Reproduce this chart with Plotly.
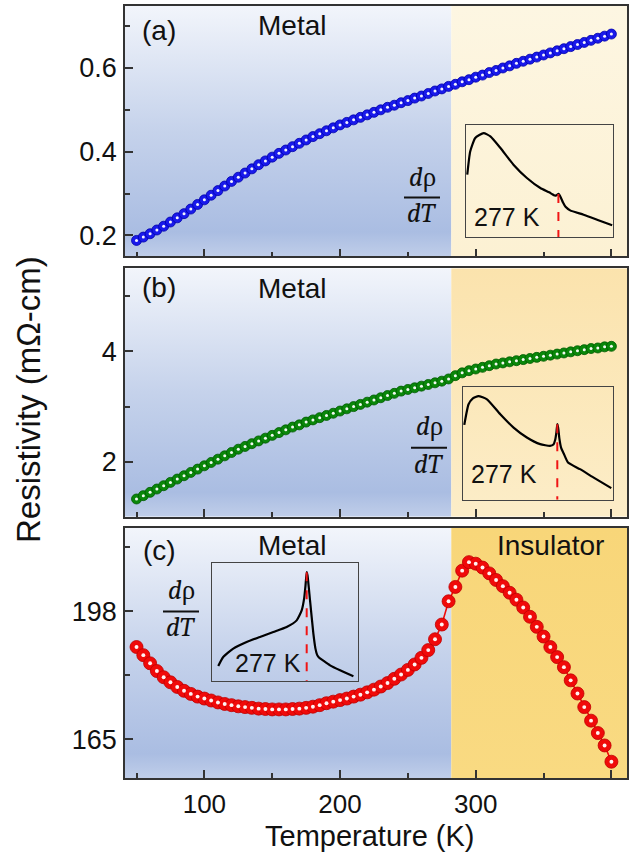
import plotly.graph_objects as go

# ---------------- data ----------------
T = list(range(50, 401, 5))  # temperature (K)

rho_a = [0.188, 0.196, 0.204, 0.213, 0.222, 0.232, 0.242, 0.252, 0.263, 0.274,
         0.285, 0.296, 0.307, 0.318, 0.329, 0.339, 0.349, 0.359, 0.369, 0.378,
         0.387, 0.396, 0.404, 0.412, 0.420, 0.428, 0.436, 0.443, 0.450, 0.457,
         0.464, 0.470, 0.476, 0.482, 0.488, 0.494, 0.500, 0.506, 0.511, 0.517,
         0.522, 0.528, 0.533, 0.539, 0.545, 0.550, 0.556, 0.561, 0.567, 0.572,
         0.578, 0.583, 0.589, 0.594, 0.600, 0.605, 0.611, 0.616, 0.621, 0.626,
         0.631, 0.636, 0.641, 0.646, 0.651, 0.656, 0.661, 0.666, 0.671, 0.676,
         0.681]

rho_b = [1.33, 1.39, 1.45, 1.51, 1.57, 1.63, 1.69, 1.75, 1.81, 1.87,
         1.93, 1.99, 2.05, 2.11, 2.17, 2.23, 2.28, 2.33, 2.38, 2.43,
         2.48, 2.53, 2.58, 2.63, 2.67, 2.72, 2.76, 2.80, 2.84, 2.88,
         2.92, 2.96, 3.00, 3.04, 3.08, 3.12, 3.16, 3.20, 3.24, 3.28,
         3.31, 3.34, 3.37, 3.40, 3.43, 3.46, 3.50, 3.56, 3.61, 3.65,
         3.68, 3.71, 3.74, 3.77, 3.79, 3.81, 3.83, 3.85, 3.87, 3.89,
         3.91, 3.93, 3.95, 3.97, 3.99, 4.01, 4.03, 4.05, 4.06, 4.08,
         4.09]

rho_c = [188.8, 186.7, 184.6, 182.6, 181.0, 179.7, 178.5, 177.5, 176.7, 176.0,
         175.5, 175.0, 174.5, 174.1, 173.8, 173.5, 173.3, 173.1, 172.9, 172.8,
         172.7, 172.7, 172.7, 172.8, 172.9, 173.1, 173.4, 173.8, 174.3, 174.7,
         175.1, 175.5, 176.0, 176.5, 177.1, 177.8, 178.6, 179.5, 180.6, 181.7,
         182.9, 184.3, 186.0, 188.0, 190.8, 194.6, 200.6, 204.3, 208.5, 210.7,
         210.3, 209.3, 207.8, 206.1, 204.5, 202.8, 201.0, 199.0, 196.6, 194.0,
         191.5, 188.8, 186.2, 183.6, 180.2, 176.8, 173.3, 169.8, 166.6, 163.4,
         159.2]

# derivative insets (arbitrary units)
dT_a = [60, 67, 79, 99, 115, 139, 170, 202, 234, 255, 262, 268, 272, 275, 277, 279,
        283, 288, 294, 305, 337, 369, 405]
drho_a = [0.556, 0.763, 0.882, 0.926, 0.896, 0.793, 0.645, 0.527, 0.438, 0.400, 0.384,
          0.372, 0.373, 0.381, 0.386, 0.380, 0.352, 0.310, 0.272, 0.240, 0.201, 0.157, 0.107]

dT_b = [60, 70, 80, 93, 113, 144, 175, 206, 237, 260, 268, 272, 275, 277, 279, 282,
        286, 292, 302, 330, 361, 403]
drho_b = [0.664, 0.847, 0.900, 0.920, 0.891, 0.758, 0.640, 0.552, 0.493, 0.478, 0.490,
          0.530, 0.600, 0.670, 0.640, 0.540, 0.460, 0.410, 0.330, 0.271, 0.198, 0.103]

dT_c = [65, 77, 101, 133, 165, 197, 229, 253, 265, 271, 274, 277, 279, 285, 293, 298,
        302, 307, 315, 333, 357, 389]
drho_c = [0.129, 0.204, 0.275, 0.331, 0.373, 0.415, 0.457, 0.513, 0.597, 0.700, 0.800,
          0.919, 0.891, 0.681, 0.401, 0.275, 0.222, 0.198, 0.178, 0.134, 0.092, 0.042]

T_MI = 282          # metal-insulator boundary shading (K)
T_PEAK = 277        # marked transition in dρ/dT

x_ticks = [100, 200, 300, 400]
ya_ticks = [0.2, 0.4, 0.6]
yb_ticks = [2, 4]
yc_ticks = [165, 198]

# ---------------- layout geometry ----------------
W, H = 633, 861
ML, MR, MT, MB = 125, 6, 4, 83
X_RANGE = [41.5, 411.5]
YA_RANGE = [0.15, 0.748]
YB_RANGE = [1.01, 5.5]
YC_RANGE = [155, 219.6]


def px_x(p):
    return (p - ML) / (W - ML - MR)


def px_y(p):
    return (H - MB - p) / (H - MT - MB)


FONT = "Arial, Liberation Sans, sans-serif"
SERIF = "Cambria, Liberation Serif, DejaVu Serif, serif"
FRAME = "#333333"
TXT = "#111111"

fig = go.Figure()

BLUE_SCALE = [[0.0, "rgb(192,206,233)"], [0.1, "rgb(170,189,226)"],
              [0.5, "rgb(197,210,235)"], [1.0, "rgb(242,245,251)"]]
YELLOW_A = [[0.0, "rgb(252,241,211)"], [1.0, "rgb(253,246,226)"]]
YELLOW_B = [[0.0, "rgb(252,237,200)"], [1.0, "rgb(251,227,173)"]]
YELLOW_C = [[0.0, "rgb(249,218,130)"], [1.0, "rgb(248,214,121)"]]


def region(xa, ya, x0, x1, yr, scale):
    y0, y1 = yr
    fig.add_trace(go.Scatter(
        x=[x0, x1, x1, x0, x0], y=[y0, y0, y1, y1, y0], xaxis=xa, yaxis=ya,
        mode="none", fill="toself",
        fillgradient=dict(type="vertical", colorscale=scale, start=y0, stop=y1),
        hoverinfo="skip", showlegend=False))


region("x", "y", X_RANGE[0], T_MI, YA_RANGE, BLUE_SCALE)
region("x", "y", T_MI, X_RANGE[1], YA_RANGE, YELLOW_A)
region("x2", "y2", X_RANGE[0], T_MI, YB_RANGE, BLUE_SCALE)
region("x2", "y2", T_MI, X_RANGE[1], YB_RANGE, YELLOW_B)
region("x3", "y3", X_RANGE[0], T_MI, YC_RANGE, BLUE_SCALE)
region("x3", "y3", T_MI, X_RANGE[1], YC_RANGE, YELLOW_C)


def spheres(xa, ya, y, color, edge, size, line=False):
    if line:
        fig.add_trace(go.Scatter(x=T, y=y, xaxis=xa, yaxis=ya, mode="lines",
                                 line=dict(color=color, width=1.6),
                                 hoverinfo="skip", showlegend=False))
    fig.add_trace(go.Scatter(x=T, y=y, xaxis=xa, yaxis=ya, mode="markers",
                             marker=dict(size=size, color=color,
                                         line=dict(color=edge, width=0.8)),
                             showlegend=False))
    fig.add_trace(go.Scatter(x=T, y=y, xaxis=xa, yaxis=ya, mode="markers",
                             marker=dict(size=size * 0.3, color="rgba(255,255,255,0.95)"),
                             hoverinfo="skip", showlegend=False))


spheres("x", "y", rho_a, "rgb(25,25,235)", "rgb(0,0,170)", 10)
spheres("x2", "y2", rho_b, "rgb(10,135,10)", "rgb(0,90,0)", 10)
spheres("x3", "y3", rho_c, "rgb(240,10,10)", "rgb(190,0,0)", 13, line=True)


def inset(xa, ya, tx, dy):
    fig.add_trace(go.Scatter(x=tx, y=dy, xaxis=xa, yaxis=ya, mode="lines",
                             line=dict(color="black", width=2.2, shape="spline", smoothing=0.5),
                             hoverinfo="skip", showlegend=False))
    peak = dy[tx.index(T_PEAK)]
    fig.add_trace(go.Scatter(x=[T_PEAK, T_PEAK], y=[peak, 0], xaxis=xa, yaxis=ya,
                             mode="lines", line=dict(color="rgb(240,20,20)", width=2, dash="dash"),
                             hoverinfo="skip", showlegend=False))


inset("x4", "y4", dT_a, drho_a)
inset("x5", "y5", dT_b, drho_b)
inset("x6", "y6", dT_c, drho_c)

# ---------------- axes ----------------
tick_font = dict(family=FONT, size=26, color=TXT)
ytick_font = dict(family=FONT, size=27, color=TXT)
common = dict(showline=True, mirror=True, linecolor=FRAME, linewidth=1.7,
              ticks="inside", ticklen=8, tickwidth=1.5, tickcolor=FRAME,
              showgrid=False, zeroline=False, tickfont=tick_font)
minor_common = dict(ticks="inside", ticklen=5, tickwidth=1.5, tickcolor=FRAME, showgrid=False)

dom_a = [px_y(255), px_y(4)]
dom_b = [px_y(516), px_y(267)]
dom_c = [px_y(778), px_y(527)]

xcommon = dict(common, range=X_RANGE, tickvals=x_ticks,
               minor=dict(minor_common, tickvals=[50, 150, 250, 350]))
ycommon = dict(common, tickfont=ytick_font, ticklabelstandoff=1)

inset_ax = dict(showline=True, mirror=True, linecolor="#444444", linewidth=1.3,
                ticks="", showticklabels=False, showgrid=False, zeroline=False)

fig.update_layout(
    width=W, height=H, autosize=False,
    margin=dict(l=ML, r=MR, t=MT, b=MB, pad=0),
    paper_bgcolor="white", plot_bgcolor="rgba(0,0,0,0)",
    font=dict(family=FONT, color=TXT),
    showlegend=False,
    xaxis=dict(xcommon, anchor="y", domain=[0, 1], showticklabels=False),
    yaxis=dict(ycommon, anchor="x", domain=dom_a, range=YA_RANGE, tickvals=ya_ticks,
               ticktext=["0.2", "0.4", "0.6"],
               minor=dict(minor_common, tickvals=[0.3, 0.5, 0.7])),
    xaxis2=dict(xcommon, anchor="y2", domain=[0, 1], showticklabels=False),
    yaxis2=dict(ycommon, anchor="x2", domain=dom_b, range=YB_RANGE, tickvals=yb_ticks,
                minor=dict(minor_common, tickvals=[3, 5])),
    xaxis3=dict(xcommon, anchor="y3", domain=[0, 1], ticklabelstandoff=2),
    yaxis3=dict(ycommon, anchor="x3", domain=dom_c, range=YC_RANGE, tickvals=yc_ticks,
                minor=dict(minor_common, tickvals=[181.5, 214.5])),
    xaxis4=dict(inset_ax, anchor="y4", domain=[px_x(466), px_x(613)], range=[57, 407]),
    yaxis4=dict(inset_ax, anchor="x4", domain=[px_y(236), px_y(123)], range=[0, 1]),
    xaxis5=dict(inset_ax, anchor="y5", domain=[px_x(463), px_x(613)], range=[57, 407]),
    yaxis5=dict(inset_ax, anchor="x5", domain=[px_y(499), px_y(386)], range=[0, 1]),
    xaxis6=dict(inset_ax, anchor="y6", domain=[px_x(212), px_x(358)], range=[50, 400]),
    yaxis6=dict(inset_ax, anchor="x6", domain=[px_y(681), px_y(562)], range=[0, 1]),
)

# ---------------- text ----------------
def label(text, cx, cy, size, family=FONT, angle=0):
    fig.add_annotation(text=text, x=px_x(cx), y=px_y(cy), xref="paper", yref="paper",
                       xanchor="center", yanchor="middle", showarrow=False,
                       textangle=angle, font=dict(family=family, size=size, color=TXT))


for tag, cy in [("(a)", 29), ("(b)", 286), ("(c)", 550)]:
    label(tag, 159, cy, 28)
for cy in [24, 287, 545]:
    label("Metal", 292, cy, 28)
label("Insulator", 550, 545, 28)

for cx, cy in [(507, 216), (504, 473), (268, 663)]:
    label("277 K", cx, cy, 25)

# dρ/dT fractions
for cx, ynum, ybar, yden in [(422, 176, 196, 212), (429, 426, 447, 464), (181, 590, 611, 627)]:
    label("<i>d</i>ρ", cx, ynum, 27, family=SERIF)
    label("<i>dT</i>", cx, yden, 27, family=SERIF)
    fig.add_shape(type="line", xref="paper", yref="paper",
                  x0=px_x(cx - 18), x1=px_x(cx + 18), y0=px_y(ybar), y1=px_y(ybar),
                  line=dict(color=TXT, width=2))

label("Temperature (K)", 370, 836, 29)
label("Resistivity (mΩ-cm)", 29, 399, 33, angle=-90)

fig.write_html("out.html")
